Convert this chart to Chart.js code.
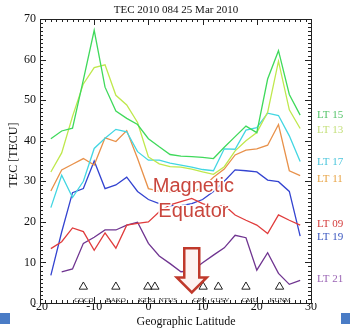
<!DOCTYPE html>
<html lang="en">
<head>
<meta charset="UTF-8">
<title>TEC 2010 084 25 Mar 2010</title>
<script src="https://cdn.jsdelivr.net/npm/chart.js"></script>
<style>
  html, body { margin: 0; padding: 0; background: #fff; }
  #wrap { position: relative; width: 350px; height: 336px; }
  .sq { position: absolute; top: 313px; width: 10px; height: 11px; background: #4a7cc6; }
</style>
</head>
<body>
<div id="wrap">
  <canvas id="tec" width="350" height="336"></canvas>
  <div class="sq" style="left:0"></div>
  <div class="sq" style="left:341px;width:9px"></div>
</div>
<script>
// geographic latitude of each sample
const lats = [-18,-16,-14,-12,-10,-8,-6,-4,-2,0,2,4,6,8,10,12,14,16,18,20,22,24,26,28];

// TEC [TECU] for each local time
const lt15 = [40.5,42.4,43.1,55,67.2,53.2,47.3,45.5,44,40.5,38.5,36.6,36.2,36.1,35.9,35.6,38.4,41,43.6,42,55.2,62.2,51.4,46.3];
const lt13 = [32.3,37,46,54,58,58.7,51.2,48.8,44.5,36,34.3,33.6,33.5,33,32.3,31.7,33.6,37.5,40,42,47,59.6,47.6,43];
const lt17 = [23.5,31.5,26,30,38.1,40.6,42.8,42.2,37.3,35.2,35.2,34.5,34,33.5,32.9,32.6,38,37.9,42.6,43.2,46.8,46.2,41.2,34.9];
const lt11 = [27.6,32.8,34.2,35.6,34,40.7,39.8,42.5,35.6,28.2,27.6,27.4,27.3,27.3,28.5,31,33,36.5,37.7,38,38.9,44,32.6,31.4];
const lt09 = [13.4,15.1,18.5,17.6,13,17.3,13.5,19.2,19.6,20,22.5,24.2,25,25.8,24.5,23.6,24.1,21.7,20.4,19.2,17.1,21.7,20.4,19.2];
const lt19 = [6.8,17.5,27.2,28.2,35,28.2,29.1,31,27.5,25.5,24.5,24,24,24.5,25.5,27.5,30,32.8,32.6,32.3,30.3,29.9,27.5,16.5];
const lt21 = [null,7.7,8.4,14.7,16.2,18,18,19.2,19.9,14.7,11.6,9.7,7.7,7.9,9.9,11.8,13.6,16.7,16.1,8.1,12.4,7.3,4.6,5.6];

// GPS stations
const stations = ['COCO','BAKO','KTB2','NTUS','CPN','CUSV','CMU','KUNM'];
const stationLat = [-12,-6,-0.1,1.2,10.1,12.9,18,24.2];
const stationLabelLat = [-11.9,-6,-0.3,3.6,9.5,13.2,18.7,24.3];

// series names, and where their tags sit on the right (TECU)
const seriesNames = ['LT 15','LT 13','LT 17','LT 11','LT 09','LT 19','LT 21'];
const tagLevels = [46.3,42.6,34.7,30.5,19.4,16.3,6.0];

const lineColors = ['#3fd95b','#bfe84c','#42d6e2','#e8914a','#e03c3c','#3343d0','#6f3490'];
const tagColors  = ['#55c46a','#c3df78','#4cc6dc','#e8a446','#d43c3c','#3c58c0','#9a64b4'];

const serif = 'Liberation Serif, Times New Roman, serif';

function pts(vals) {
  return vals.map((v, i) => ({ x: lats[i], y: v }));
}

const series = [lt15, lt13, lt17, lt11, lt09, lt19, lt21];
const datasets = series.map((vals, i) => ({
  label: seriesNames[i],
  data: pts(vals),
  borderColor: lineColors[i],
  backgroundColor: lineColors[i],
  borderWidth: 1.3,
  pointRadius: 0,
  fill: false,
  spanGaps: false
}));

datasets.push({
  type: 'scatter',
  label: 'stations',
  data: stationLat.map(v => ({ x: v, y: 4.0 })),
  pointStyle: 'triangle',
  pointRadius: 4.8,
  borderColor: '#222',
  backgroundColor: 'rgba(255,255,255,0)',
  borderWidth: 1
});

const overlay = {
  id: 'overlay',
  afterDraw(chart) {
    const ctx = chart.ctx;
    const a = chart.chartArea;
    const x = chart.scales.x, y = chart.scales.y;
    ctx.save();

    // frame + inward ticks on all four sides
    ctx.strokeStyle = '#222';
    ctx.lineWidth = 1;
    ctx.strokeRect(Math.round(a.left) + 0.5, Math.round(a.top) + 0.5, Math.round(a.width), Math.round(a.height));
    ctx.beginPath();
    for (let v = -20; v <= 30; v++) {
      const px = Math.round(x.getPixelForValue(v)) + 0.5;
      const len = v % 10 === 0 ? 6 : 3;
      ctx.moveTo(px, a.bottom); ctx.lineTo(px, a.bottom - len);
      ctx.moveTo(px, a.top); ctx.lineTo(px, a.top + len);
    }
    for (let v = 0; v <= 70; v++) {
      const py = Math.round(y.getPixelForValue(v)) + 0.5;
      const len = v % 10 === 0 ? 6 : 3;
      ctx.moveTo(a.left, py); ctx.lineTo(a.left + len, py);
      ctx.moveTo(a.right, py); ctx.lineTo(a.right - len, py);
    }
    ctx.stroke();

    // titles
    ctx.fillStyle = '#111';
    ctx.textAlign = 'center';
    ctx.textBaseline = 'middle';
    ctx.font = '11px ' + serif;
    ctx.fillText('TEC 2010 084 25 Mar 2010', 176, 10);
    ctx.font = '12px ' + serif;
    ctx.fillText('Geographic Latitude', 186, 322);
    ctx.save();
    ctx.translate(14, 155);
    ctx.rotate(-Math.PI / 2);
    ctx.fillText('TEC [TECU]', 0, 0);
    ctx.restore();

    // series tags on the right
    ctx.textAlign = 'left';
    ctx.font = '11px ' + serif;
    seriesNames.forEach((n, i) => {
      ctx.fillStyle = tagColors[i];
      ctx.fillText(n, a.right + 6, y.getPixelForValue(tagLevels[i]));
    });

    // station names
    ctx.fillStyle = '#222';
    ctx.textAlign = 'center';
    ctx.font = '7px ' + serif;
    stations.forEach((s, i) => {
      ctx.fillText(s, x.getPixelForValue(stationLabelLat[i]), y.getPixelForValue(0.7));
    });

    // Magnetic Equator note
    ctx.font = '20px Liberation Sans, Arial, sans-serif';
    ctx.textBaseline = 'alphabetic';
    ctx.lineJoin = 'round';
    ctx.strokeStyle = '#fff';
    ctx.lineWidth = 3;
    const cx = x.getPixelForValue(8.3);
    ctx.strokeText('Magnetic', cx, 192);
    ctx.strokeText('Equator', cx, 217);
    ctx.fillStyle = '#c9463d';
    ctx.fillText('Magnetic', cx, 192);
    ctx.fillText('Equator', cx, 217);

    // arrow pointing at the equator
    const ax = x.getPixelForValue(8.0);
    const top = y.getPixelForValue(13.5), neck = y.getPixelForValue(6.3), tip = y.getPixelForValue(2.6);
    ctx.beginPath();
    ctx.moveTo(ax - 7.5, top);
    ctx.lineTo(ax + 7.5, top);
    ctx.lineTo(ax + 7.5, neck);
    ctx.lineTo(ax + 15, neck);
    ctx.lineTo(ax, tip);
    ctx.lineTo(ax - 15, neck);
    ctx.lineTo(ax - 7.5, neck);
    ctx.closePath();
    ctx.fillStyle = '#fdf3f2';
    ctx.fill();
    ctx.strokeStyle = '#c0392b';
    ctx.lineWidth = 2.5;
    ctx.lineJoin = 'miter';
    ctx.stroke();

    ctx.restore();
  }
};

new Chart(document.getElementById('tec'), {
  type: 'line',
  data: { datasets: datasets },
  options: {
    responsive: false,
    animation: false,
    layout: { padding: { top: 19, right: 39, left: 0, bottom: 0 } },
    plugins: { legend: { display: false }, tooltip: { enabled: false } },
    scales: {
      x: {
        type: 'linear', min: -20, max: 30,
        grid: { display: false, drawTicks: false }, border: { display: false },
        ticks: { stepSize: 10, color: '#111', padding: -3, maxRotation: 0, font: { family: serif, size: 12 } },
        afterFit(s) { s.height = 33; }
      },
      y: {
        min: 0, max: 70,
        grid: { display: false, drawTicks: false }, border: { display: false },
        ticks: { stepSize: 10, color: '#111', padding: 4, font: { family: serif, size: 12 } },
        afterFit(s) { s.width = 40; }
      }
    }
  },
  plugins: [overlay]
});
</script>
</body>
</html>
